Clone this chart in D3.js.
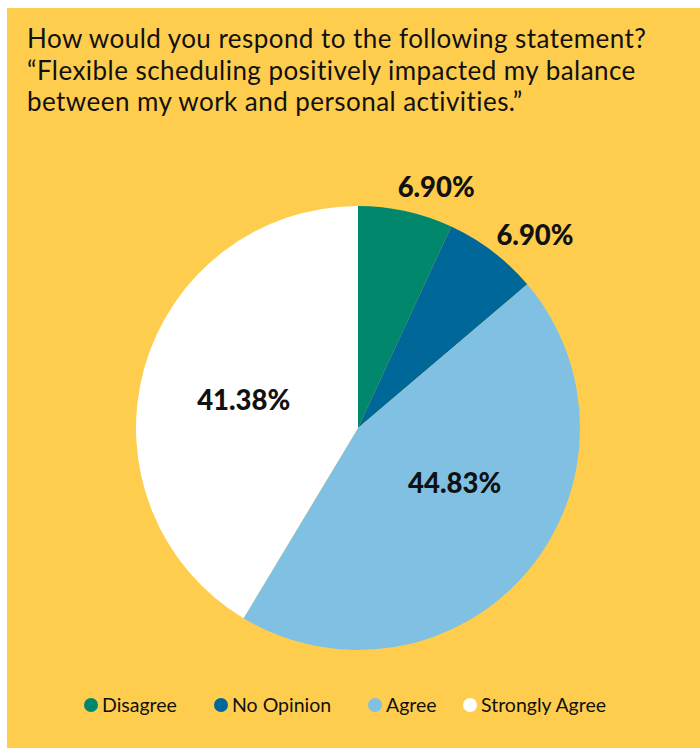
<!DOCTYPE html>
<html>
<head>
<meta charset="utf-8">
<script src="https://cdn.jsdelivr.net/npm/d3@7"></script>
<style>
  html, body { margin: 0; padding: 0; background: #ffffff; }
  svg { display: block; }
</style>
</head>
<body>
<svg id="chart" width="700" height="748"></svg>
<script>
// Survey responses
const categories = ["Disagree", "No Opinion", "Agree", "Strongly Agree"];
const values = [6.90, 6.90, 44.83, 41.38];
const valueLabels = ["6.90%", "6.90%", "44.83%", "41.38%"];
const titleLines = [
  "How would you respond to the following statement?",
  "\u201CFlexible scheduling positively impacted my balance",
  "between my work and personal activities.\u201D"
];

const colors = ["#00876C", "#006899", "#80C0E2", "#FFFFFF"];
// label anchor per slice: [angle in degrees from 12 o'clock, distance as fraction of radius]
const labelAnchor = [[18, 1.14], [42.5, 1.18], [119.5, 0.50], [283.7, 0.53]];

const svg = d3.select("#chart");
const W = 700, H = 748;

svg.append("rect")
  .attr("x", 7).attr("y", 8)
  .attr("width", W - 7).attr("height", H - 8)
  .attr("fill", "#FFCD4E");

const font = "Lato, 'Open Sans', sans-serif";

svg.append("g").selectAll("text")
  .data(titleLines)
  .join("text")
  .attr("x", 27)
  .attr("y", (d, i) => 48 + i * 31.5)
  .attr("font-family", font)
  .attr("font-size", 26)
  .attr("letter-spacing", 0.45)
  .attr("fill", "#111")
  .text(d => d);

const cx = 358, cy = 428, r = 222;

const pie = d3.pie().sort(null).value(d => d)(values);
const arc = d3.arc().innerRadius(0).outerRadius(r);

const g = svg.append("g").attr("transform", `translate(${cx},${cy})`);
g.selectAll("path")
  .data(pie)
  .join("path")
  .attr("d", arc)
  .attr("fill", (d, i) => colors[i]);

g.selectAll("text.val")
  .data(pie)
  .join("text")
  .attr("class", "val")
  .attr("x", (d, i) => Math.sin(labelAnchor[i][0] * Math.PI / 180) * r * labelAnchor[i][1])
  .attr("y", (d, i) => -Math.cos(labelAnchor[i][0] * Math.PI / 180) * r * labelAnchor[i][1])
  .attr("dy", "0.36em")
  .attr("text-anchor", "middle")
  .attr("font-family", font)
  .attr("font-weight", 900)
  .attr("font-size", 27.5)
  .attr("fill", "#111")
  .text((d, i) => valueLabels[i]);

// legend
const legendX = [91, 221, 375, 470];
const lg = svg.append("g").selectAll("g")
  .data(categories)
  .join("g")
  .attr("transform", (d, i) => `translate(${legendX[i]},705)`);
lg.append("circle").attr("r", 7).attr("fill", (d, i) => colors[i]);
lg.append("text")
  .attr("x", 11)
  .attr("dy", "0.35em")
  .attr("font-family", font)
  .attr("font-size", 19.5)
  .attr("fill", "#111")
  .text(d => d);
</script>
</body>
</html>
